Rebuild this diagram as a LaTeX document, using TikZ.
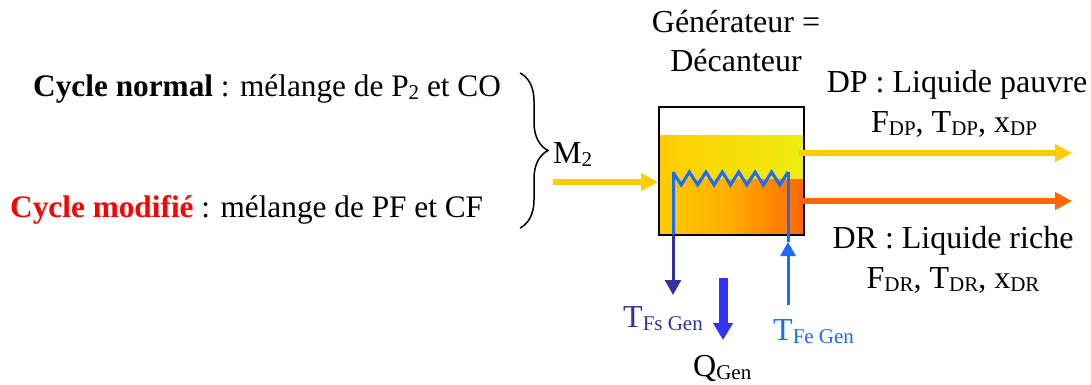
\documentclass[tikz,border=0pt]{standalone}
\usepackage{fontspec}
\setmainfont{Liberation Serif}
\usetikzlibrary{arrows.meta,decorations.pathreplacing}
\definecolor{yel}{HTML}{FFCC00}
\definecolor{org}{HTML}{FF6600}
\definecolor{dkb}{HTML}{333399}
\definecolor{ltb}{HTML}{1A6BFF}
\definecolor{qb}{HTML}{3333FF}
\definecolor{limey}{HTML}{EEEE11}
\newcommand\lsb[1]{\raisebox{-3pt}{\fontsize{21}{21}\selectfont #1}}
\begin{document}
\begin{tikzpicture}[x=1pt,y=-1pt,
  txt/.style={inner sep=0pt,font=\fontsize{32}{38}\selectfont},
  ltxt/.style={inner sep=0pt,font=\fontsize{31.3}{38}\selectfont},
  flow/.style={line width=5.5pt,-{Triangle[length=17pt,width=17pt]}},
  coil/.style={ltb,line width=3pt,line join=miter},
]
\useasboundingbox (0,0) rectangle (1091,385);
% liquid fill
\shade[left color=yel,right color=limey] (659,135) rectangle (804,179);
\shade[left color=yel,right color=org,middle color=yel!70!org] (659,179) rectangle (804,235);
\node[draw=black,line width=1.8pt,minimum width=145pt,minimum height=128pt,inner sep=0pt] (gen) at (731.5,171) {};
% coil
\coordinate (cs) at (673,172);
\coordinate (ce) at (788,172);
\draw[coil] (cs) -- (681.2,185) -- (689.4,172) -- (697.6,185) -- (705.9,172) -- (714.1,185) -- (722.3,172) -- (730.5,185) -- (738.7,172) -- (746.9,185) -- (755.1,172) -- (763.4,185) -- (771.6,172) -- (779.8,185) -- (ce);
\coordinate (cbl) at (673,234);
\draw[ltb,line width=3pt] (cs) -- (cbl);
\coordinate (tfs) at (673,295);
\draw[dkb,line width=3pt,-{Triangle[length=15pt,width=16pt]}] (cbl) -- (tfs);
\coordinate (tfeS) at (788,305);
\coordinate (tfeT) at (788,242);
\draw[ltb,line width=3pt,-{Triangle[length=14pt,width=15pt]}] (tfeS) -- (tfeT);
\draw[ltb,line width=3pt] (tfeT) -- (ce);
% Q arrow
\coordinate (qs) at (723,278);
\coordinate (qe) at (723,340);
\draw[qb,line width=9pt,-{Triangle[length=17pt,width=19pt]}] (qs) -- (qe);
% feed
\coordinate (fs) at (553,182);
\draw[yel,flow] (fs) -- (gen.west |- fs);
% outlets
\coordinate (dps) at (799,153);
\coordinate (dpe) at (1072,153);
\draw[yel,flow] (dps) -- (dpe);
\coordinate (drs) at (799,201);
\coordinate (dre) at (1072,201);
\draw[org,flow] (drs) -- (dre);
% brace
\coordinate (bt) at (520,73);
\coordinate (bb) at (520,228);
\draw[line width=1.5pt,decorate,decoration={brace,amplitude=28pt}] (bt) -- (bb);
% texts
\node[ltxt,anchor=base west] (cn) at (33,96) {\textbf{Cycle normal} : mélange de P\lsb{2} et CO};
\node[ltxt,anchor=base west] (cm) at (10,217) {\textcolor{red}{\textbf{Cycle modifié}} : mélange de PF et CF};
\node[txt,anchor=base west] (m2) at (553,163) {M\lsb{2}};
\node[txt,anchor=base] (g1) at (736,33) {Générateur =};
\node[txt,anchor=base] (g2) at (736,72) {Décanteur};
\node[txt,anchor=base] (dp1) at (957,93) {DP : Liquide pauvre};
\node[txt,anchor=base] (dp2) at (954,132) {F\lsb{DP}, T\lsb{DP}, x\lsb{DP}};
\node[txt,anchor=base] (dr1) at (953,248) {DR : Liquide riche};
\node[txt,anchor=base] (dr2) at (953,288) {F\lsb{DR}, T\lsb{DR}, x\lsb{DR}};
\node[txt,anchor=base west,dkb] (tfsl) at (623,327) {T\lsb{Fs Gen}};
\node[txt,anchor=base west,ltb] (tfel) at (773,340) {T\lsb{Fe Gen}};
\node[txt,anchor=base west] (ql) at (693,376) {Q\lsb{Gen}};
\end{tikzpicture}
\end{document}
